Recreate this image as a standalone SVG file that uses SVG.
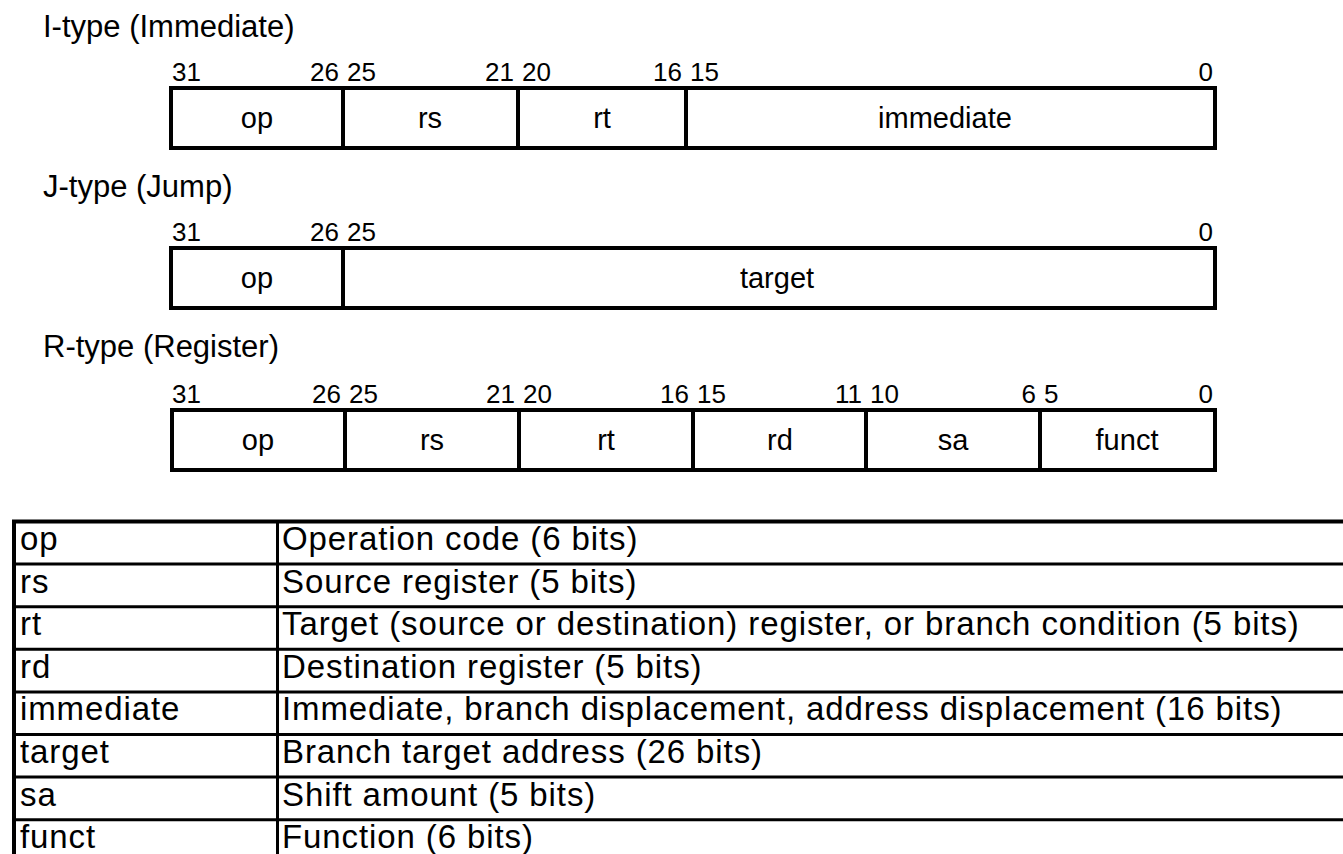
<svg xmlns="http://www.w3.org/2000/svg" width="1343" height="854" viewBox="0 0 1343 854">
<style>
text{font-family:"Liberation Sans",Arial,sans-serif;fill:#000}
.title{font-size:31px}
.num{font-size:26px}
.fld{font-size:29px;text-anchor:middle}
.e{text-anchor:end}
.box{fill:#fff;stroke:#000;stroke-width:4}
.div{stroke:#000;stroke-width:4}
.tbl{font-size:33px;letter-spacing:0.9px}
.tline{stroke:#000;stroke-width:3}
</style>
<rect width="1343" height="854" fill="#fff"/>
<g id="itype">
<text class="title" x="43" y="37">I-type (Immediate)</text>
<text class="num" x="172" y="81">31</text>
<text class="num e" x="339" y="81">26</text>
<text class="num" x="347" y="81">25</text>
<text class="num e" x="514" y="81">21</text>
<text class="num" x="522" y="81">20</text>
<text class="num e" x="682" y="81">16</text>
<text class="num" x="690" y="81">15</text>
<text class="num e" x="1213" y="81">0</text>
<rect class="box" x="171" y="88" width="1044" height="60"/>
<line class="div" x1="343" y1="88" x2="343" y2="148"/>
<line class="div" x1="518" y1="88" x2="518" y2="148"/>
<line class="div" x1="686" y1="88" x2="686" y2="148"/>
<text class="fld" x="257" y="128">op</text>
<text class="fld" x="430" y="128">rs</text>
<text class="fld" x="602" y="128">rt</text>
<text class="fld" x="945" y="128">immediate</text>
</g>
<g id="jtype">
<text class="title" x="43" y="197">J-type (Jump)</text>
<text class="num" x="172" y="241">31</text>
<text class="num e" x="339" y="241">26</text>
<text class="num" x="347" y="241">25</text>
<text class="num e" x="1213" y="241">0</text>
<rect class="box" x="171" y="248" width="1044" height="60"/>
<line class="div" x1="343" y1="248" x2="343" y2="308"/>
<text class="fld" x="257" y="288">op</text>
<text class="fld" x="777" y="288">target</text>
</g>
<g id="rtype">
<text class="title" x="43" y="357">R-type (Register)</text>
<text class="num" x="172" y="403">31</text>
<text class="num e" x="341" y="403">26</text>
<text class="num" x="349" y="403">25</text>
<text class="num e" x="515" y="403">21</text>
<text class="num" x="523" y="403">20</text>
<text class="num e" x="689" y="403">16</text>
<text class="num" x="697" y="403">15</text>
<text class="num e" x="862" y="403">11</text>
<text class="num" x="870" y="403">10</text>
<text class="num e" x="1036" y="403">6</text>
<text class="num" x="1044" y="403">5</text>
<text class="num e" x="1213" y="403">0</text>
<rect class="box" x="172" y="410" width="1043" height="60"/>
<line class="div" x1="345" y1="410" x2="345" y2="470"/>
<line class="div" x1="519" y1="410" x2="519" y2="470"/>
<line class="div" x1="693" y1="410" x2="693" y2="470"/>
<line class="div" x1="866" y1="410" x2="866" y2="470"/>
<line class="div" x1="1040" y1="410" x2="1040" y2="470"/>
<text class="fld" x="258" y="450">op</text>
<text class="fld" x="432" y="450">rs</text>
<text class="fld" x="606" y="450">rt</text>
<text class="fld" x="780" y="450">rd</text>
<text class="fld" x="953" y="450">sa</text>
<text class="fld" x="1127" y="450">funct</text>
</g>
<g id="legend">
<rect x="14" y="521.5" width="1340" height="341" fill="none" stroke="#000" stroke-width="4"/>
<line class="tline" x1="277.5" y1="521.5" x2="277.5" y2="862.5"/>
<line class="tline" x1="14" y1="564.1" x2="1343" y2="564.1"/>
<line class="tline" x1="14" y1="606.7" x2="1343" y2="606.7"/>
<line class="tline" x1="14" y1="649.3" x2="1343" y2="649.3"/>
<line class="tline" x1="14" y1="691.9" x2="1343" y2="691.9"/>
<line class="tline" x1="14" y1="734.5" x2="1343" y2="734.5"/>
<line class="tline" x1="14" y1="777.1" x2="1343" y2="777.1"/>
<line class="tline" x1="14" y1="819.7" x2="1343" y2="819.7"/>
<text class="tbl" x="20" y="550">op</text><text class="tbl" x="282" y="550">Operation code (6 bits)</text>
<text class="tbl" x="20" y="592.6">rs</text><text class="tbl" x="282" y="592.6">Source register (5 bits)</text>
<text class="tbl" x="20" y="635.2">rt</text><text class="tbl" x="282" y="635.2">Target (source or destination) register, or branch condition (5 bits)</text>
<text class="tbl" x="20" y="677.8">rd</text><text class="tbl" x="282" y="677.8">Destination register (5 bits)</text>
<text class="tbl" x="20" y="720.4">immediate</text><text class="tbl" x="282" y="720.4">Immediate, branch displacement, address displacement (16 bits)</text>
<text class="tbl" x="20" y="763">target</text><text class="tbl" x="282" y="763">Branch target address (26 bits)</text>
<text class="tbl" x="20" y="805.6">sa</text><text class="tbl" x="282" y="805.6">Shift amount (5 bits)</text>
<text class="tbl" x="20" y="848.2">funct</text><text class="tbl" x="282" y="848.2">Function (6 bits)</text>
</g>
</svg>
